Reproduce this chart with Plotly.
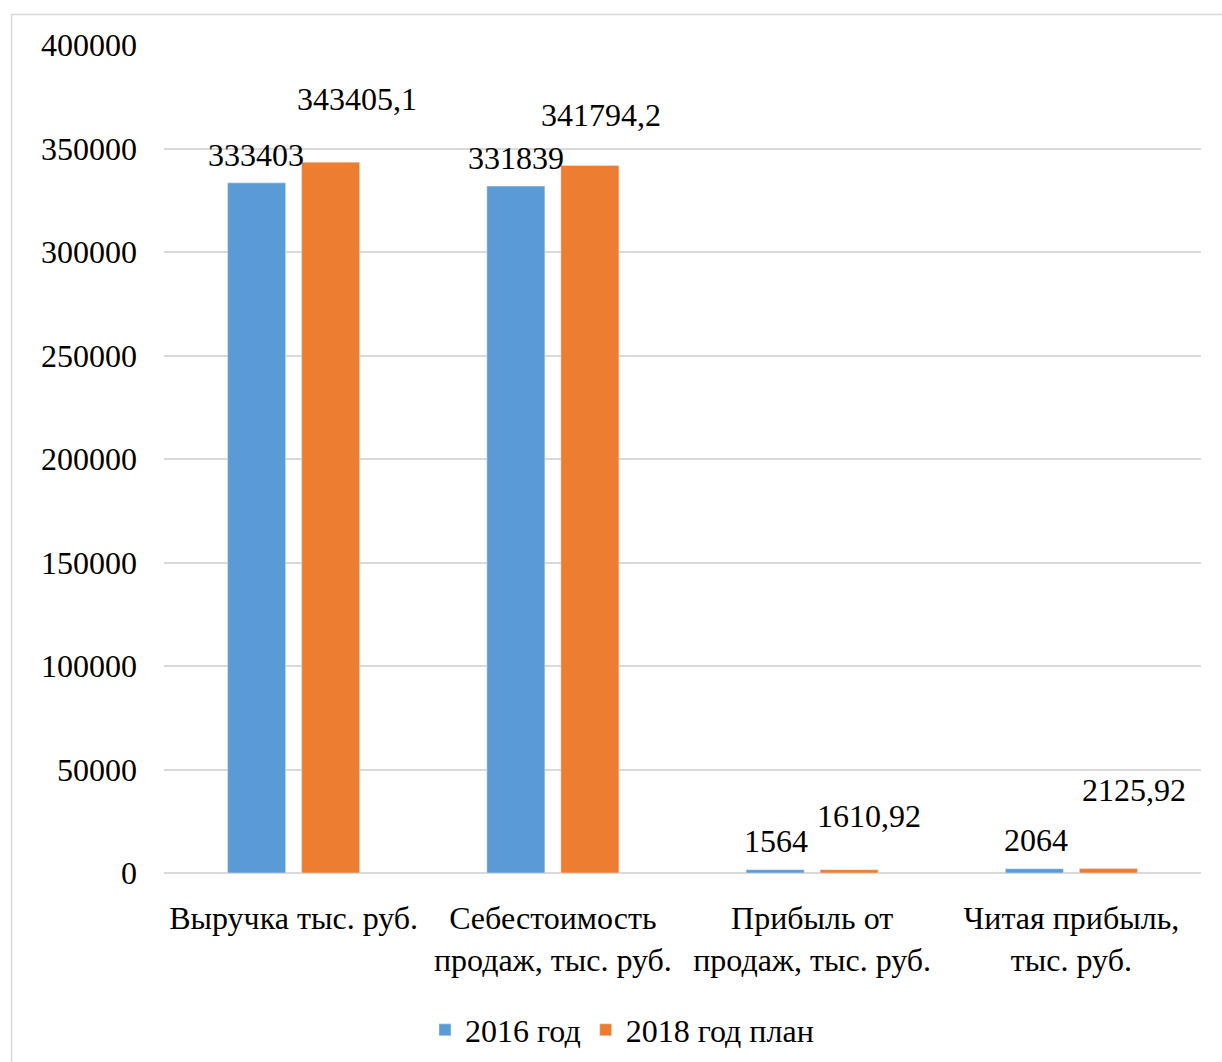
import plotly.graph_objects as go

categories = ["Выручка тыс. руб.", "Себестоимость<br>продаж, тыс. руб.",
              "Прибыль от<br>продаж, тыс. руб.", "Читая прибыль,<br>тыс. руб."]
series_names = ["2016 год", "2018 год план"]
values_2016 = [333403, 331839, 1564, 2064]
values_2018 = [343405.1, 341794.2, 1610.92, 2125.92]
labels_2016 = ["333403", "331839", "1564", "2064"]
labels_2018 = ["343405,1", "341794,2", "1610,92", "2125,92"]
y_ticks = [0, 50000, 100000, 150000, 200000, 250000, 300000, 350000, 400000]

colors = ["#5B9BD5", "#ED7D31"]
FONT = "Liberation Serif, Times New Roman, serif"
NUM_SIZE = 32
TXT_SIZE = 32

fig = go.Figure()
fig.add_trace(go.Bar(x=categories, y=values_2016, name=series_names[0], marker_color=colors[0]))
fig.add_trace(go.Bar(x=categories, y=values_2018, name=series_names[1], marker_color=colors[1]))

# manual label offsets (x, y) in px relative to bar top-center
off_2016 = [(-1, 28), (0, 28), (1, 29), (2, 29)]
off_2018 = [(26, 63), (11, 50), (20, 54), (26, 79)]
slot = 37
for i, c in enumerate(categories):
    fig.add_annotation(x=c, y=values_2016[i], xref="x", yref="y", text=labels_2016[i],
                       showarrow=False, xshift=-slot + off_2016[i][0], yshift=off_2016[i][1],
                       font=dict(family=FONT, size=NUM_SIZE, color="#000"))
    fig.add_annotation(x=c, y=values_2018[i], xref="x", yref="y", text=labels_2018[i],
                       showarrow=False, xshift=slot + off_2018[i][0], yshift=off_2018[i][1],
                       font=dict(family=FONT, size=NUM_SIZE, color="#000"))

fig.add_shape(type="rect", xref="paper", yref="paper", x0=-0.147, x1=1.2, y0=-0.4, y1=1.0368,
              line=dict(color="#d9d9d9", width=1.5), fillcolor="rgba(0,0,0,0)", layer="below")

fig.update_layout(
    width=1222, height=1062,
    margin=dict(l=164, r=21, t=45, b=189),
    paper_bgcolor="white", plot_bgcolor="white",
    barmode="group", bargap=0.429, bargroupgap=0.216,
    font=dict(family=FONT, size=TXT_SIZE, color="#000"),
    showlegend=True,
    legend=dict(orientation="h", xref="container", yref="container",
                x=0.509, xanchor="center", y=0.0301, yanchor="middle",
                font=dict(family=FONT, size=TXT_SIZE, color="#000"), itemwidth=30,
                bgcolor="rgba(0,0,0,0)"),
)
fig.update_xaxes(showgrid=False, showline=False, ticks="", ticklabelstandoff=23, automargin=False,
                 tickfont=dict(family=FONT, size=TXT_SIZE, color="#000"))
fig.update_yaxes(range=[0, 400000], tickvals=y_ticks, tickformat="d", automargin=False,
                 showgrid=True, gridcolor="#d9d9d9", gridwidth=1.5,
                 zeroline=True, zerolinecolor="#d9d9d9", zerolinewidth=1.5,
                 showline=False, ticks="", ticklabelstandoff=26,
                 tickfont=dict(family=FONT, size=NUM_SIZE, color="#000"))

fig.write_html("out.html")
